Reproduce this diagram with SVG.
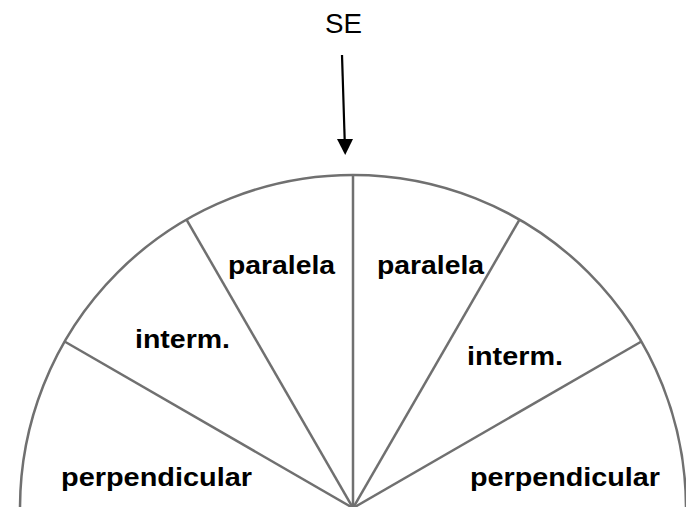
<svg xmlns="http://www.w3.org/2000/svg" width="686" height="507" viewBox="0 0 686 507">
<style>
.sec{fill:none;stroke:#707070;stroke-width:2.5}
.lbl{font-family:"Liberation Sans",Arial,sans-serif;font-weight:bold;font-size:25.5px;fill:#000}
.se{font-family:"Liberation Sans",Arial,sans-serif;font-size:28px;fill:#000}
</style>
<g id="connectors">
<path class="sec" d="M 20 508 A 333 333 0 0 1 686 508"/>
<line class="sec" x1="353" y1="508" x2="64.6" y2="341.5"/>
<line class="sec" x1="353" y1="508" x2="186.5" y2="219.6"/>
<line class="sec" x1="353" y1="508" x2="353" y2="175"/>
<line class="sec" x1="353" y1="508" x2="519.5" y2="219.6"/>
<line class="sec" x1="353" y1="508" x2="641.4" y2="341.5"/>
<line x1="342" y1="55" x2="344.7" y2="140" stroke="#000" stroke-width="2.2"/>
<polygon points="337,139 353,139 345.2,155" fill="#000"/>
</g>
<g id="se"><text class="se" x="325" y="33" textLength="37" lengthAdjust="spacingAndGlyphs">SE</text></g>
<g id="perp-left"><text class="lbl" x="61" y="486" textLength="191" lengthAdjust="spacingAndGlyphs">perpendicular</text></g>
<g id="interm-left"><text class="lbl" x="135" y="348" textLength="95" lengthAdjust="spacingAndGlyphs">interm.</text></g>
<g id="paralela-left"><text class="lbl" x="228" y="274" textLength="107" lengthAdjust="spacingAndGlyphs">paralela</text></g>
<g id="paralela-right"><text class="lbl" x="377" y="274" textLength="107" lengthAdjust="spacingAndGlyphs">paralela</text></g>
<g id="interm-right"><text class="lbl" x="467" y="365" textLength="96" lengthAdjust="spacingAndGlyphs">interm.</text></g>
<g id="perp-right"><text class="lbl" x="470" y="486" textLength="190" lengthAdjust="spacingAndGlyphs">perpendicular</text></g>
</svg>
